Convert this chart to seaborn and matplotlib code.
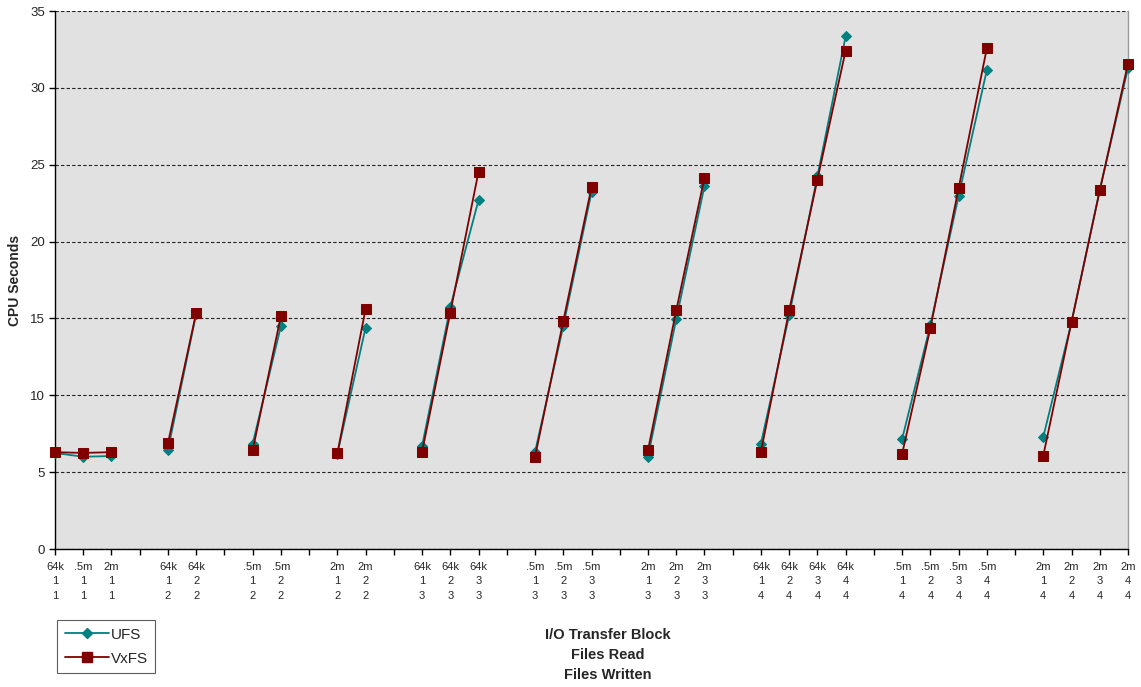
import numpy as np
import pandas as pd
import matplotlib
matplotlib.use("Agg")
import matplotlib.pyplot as plt
from matplotlib.lines import Line2D
import seaborn as sns

# Test configurations: I/O transfer block, files read, files written
block = ["64k", ".5m", "2m",
         "64k", "64k",
         ".5m", ".5m",
         "2m", "2m",
         "64k", "64k", "64k",
         ".5m", ".5m", ".5m",
         "2m", "2m", "2m",
         "64k", "64k", "64k", "64k",
         ".5m", ".5m", ".5m", ".5m",
         "2m", "2m", "2m", "2m"]
files_read = [1, 1, 1,
              1, 2,
              1, 2,
              1, 2,
              1, 2, 3,
              1, 2, 3,
              1, 2, 3,
              1, 2, 3, 4,
              1, 2, 3, 4,
              1, 2, 3, 4]
files_written = [1, 1, 1,
                 2, 2,
                 2, 2,
                 2, 2,
                 3, 3, 3,
                 3, 3, 3,
                 3, 3, 3,
                 4, 4, 4, 4,
                 4, 4, 4, 4,
                 4, 4, 4, 4]
group_sizes = [3, 2, 2, 2, 3, 3, 3, 4, 4, 4]

# CPU seconds per configuration
ufs = [6.25, 6.0, 6.05,
       6.45, 15.3,
       6.85, 14.5,
       6.2, 14.4,
       6.7, 15.75, 22.7,
       6.3, 14.5, 23.2,
       6.0, 14.95, 23.6,
       6.85, 15.2, 24.25, 33.35,
       7.15, 14.55, 22.95, 31.15,
       7.3, 14.75, 23.35, 31.3]
vxfs = [6.3, 6.25, 6.3,
        6.88, 15.37,
        6.42, 15.16,
        6.22, 15.62,
        6.32, 15.38, 24.55,
        6.0, 14.82, 23.53,
        6.42, 15.52, 24.15,
        6.32, 15.52, 24.03, 32.42,
        6.18, 14.36, 23.46, 32.57,
        6.08, 14.78, 23.33, 31.58]

# Category positions: consecutive within a group, one empty slot between groups
positions, groups = [], []
pos = 0
for g, n in enumerate(group_sizes):
    for _ in range(n):
        positions.append(pos)
        groups.append(g)
        pos += 1
    pos += 1
n_slots = positions[-1] + 1

df = pd.DataFrame({
    "pos": positions * 2,
    "group": groups * 2,
    "cpu": ufs + vxfs,
    "fs": ["UFS"] * len(ufs) + ["VxFS"] * len(vxfs),
})

sns.set_style("white")
plt.rcParams["font.family"] = ["Liberation Sans", "DejaVu Sans"]

colors = {"UFS": "#008080", "VxFS": "#800000"}
markers = {"UFS": "D", "VxFS": "s"}
msize = {"UFS": 5.5, "VxFS": 6.8}

fig = plt.figure(figsize=(11.41, 6.87), dpi=100)
ax = fig.add_axes([55 / 1141, 1 - 549 / 687, (1128 - 55) / 1141, (549 - 11) / 687])
ax.set_facecolor("#E1E1E1")

for z, fs in enumerate(["UFS", "VxFS"]):
    sub = df[df["fs"] == fs]
    sns.lineplot(data=sub, x="pos", y="cpu", units="group", estimator=None,
                 color=colors[fs], marker=markers[fs], markersize=msize[fs],
                 markeredgecolor=colors[fs], linewidth=1.3, ax=ax,
                 legend=False, zorder=3 + z, sort=False, clip_on=False)

ax.set_xlim(0, n_slots - 1)
ax.set_ylim(0, 35)
ax.set_yticks(np.arange(0, 36, 5))
ax.yaxis.grid(True, linestyle=(0, (3, 2)), color="#222222", linewidth=0.8)
ax.set_axisbelow(True)

labels = [""] * n_slots
for p, b, r, w in zip(positions, block, files_read, files_written):
    labels[p] = f"{b}\n{r}\n{w}"
ax.set_xticks(range(n_slots))
ax.set_xticklabels(labels, fontsize=8, linespacing=1.62)
ax.tick_params(axis="x", bottom=True, direction="out", length=4, width=1,
               color="black", pad=5)
ax.tick_params(axis="y", left=True, direction="out", length=4, width=1,
               color="black", labelsize=9.5, pad=3)

for s in ["left", "bottom"]:
    ax.spines[s].set_color("black")
    ax.spines[s].set_linewidth(1.0)
ax.spines["top"].set_visible(False)
ax.spines["right"].set_color("#999999")
ax.spines["right"].set_linewidth(1.0)

ax.set_xlabel("")
ax.set_ylabel("CPU Seconds", fontsize=10, fontweight="bold", labelpad=6)

fig.text(608 / 1141, 1 - 655 / 687, "I/O Transfer Block\nFiles Read\nFiles Written",
         ha="center", va="center", fontsize=10.5, fontweight="bold", linespacing=1.55)

handles = [Line2D([], [], color=colors[fs], marker=markers[fs], markersize=msize[fs],
                  linewidth=1.3) for fs in ["UFS", "VxFS"]]
leg = fig.legend(handles, ["UFS", "VxFS"], loc="upper left",
                 bbox_to_anchor=(57 / 1141, 1 - 620 / 687), frameon=True,
                 fancybox=False, edgecolor="#333333", fontsize=11,
                 handlelength=2.9, handletextpad=0.1, borderpad=0.5,
                 labelspacing=0.65, borderaxespad=0)
leg.get_frame().set_linewidth(0.8)

fig.savefig("out.png", dpi=100)
